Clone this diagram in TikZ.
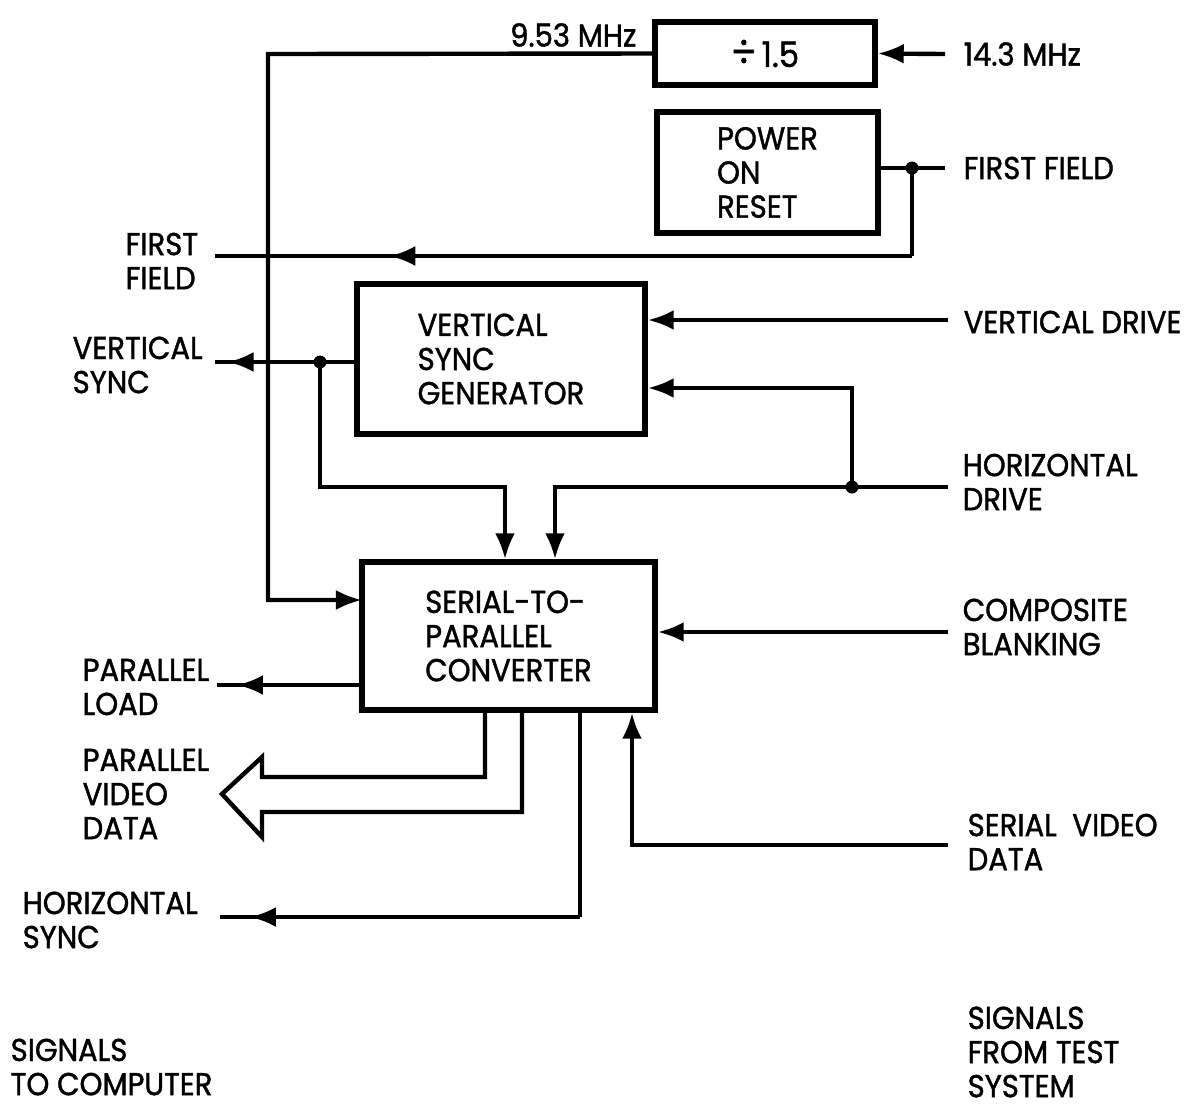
\documentclass[tikz,border=0pt]{standalone}
\usepackage{fontspec}
\setmainfont{Poppins}[FakeStretch=0.92, FakeBold=1.3]
\usetikzlibrary{arrows.meta, positioning, calc, decorations.markings}

\tikzset{
  blk/.style={draw, line width=1.5pt, align=left, inner sep=0pt},
  sig/.style={align=left, anchor=west, inner sep=0pt},
  wire/.style={line width=1.25pt},
  >={Latex[length=0.26cm, width=0.2cm]},
  jdot/.style={circle, fill, inner sep=0pt, minimum size=0.13cm},
  arrowat/.style={postaction={decorate}, decoration={markings, mark=at position #1 with {\arrow{>}}}}
}

\begin{document}
\begin{tikzpicture}[x=0.01cm, y=-0.01cm, font=\fontsize{9}{9.7}\selectfont]
\useasboundingbox (0,0) rectangle (1194,1111);

% blocks
\node[blk, minimum width=2.2cm, minimum height=0.63cm] (div) at (765,53.5) {{\fontsize{12}{12}\selectfont ÷}\,{\fontsize{10}{10}\selectfont 1.5}};
\node[blk, minimum width=2.21cm, minimum height=1.21cm] (power) at (767.5,172.5) {POWER\\ON\\RESET};
\node[blk, minimum width=2.88cm, minimum height=1.5cm] (vsg) at (501,359) {VERTICAL\\SYNC\\GENERATOR};
\node[blk, minimum width=2.93cm, minimum height=1.48cm] (spc) at (508.5,636) {SERIAL-TO-\\PARALLEL\\CONVERTER};

% signal names
\node[sig, anchor=east] (l953) at (637,35) {9.53 MHz};
\node[sig] (l143) at (963,54) {14.3 MHz};
\node[sig] (lffin) at (963,168) {FIRST FIELD};
\node[sig] (lvd) at (963,322) {VERTICAL DRIVE};
\node[sig] (lhd) at (962,482) {HORIZONTAL\\DRIVE};
\node[sig] (lcb) at (962,627) {COMPOSITE\\BLANKING};
\node[sig] (lsv) at (967,842) {SERIAL\ \ VIDEO\\DATA};
\node[sig] (lfrom) at (967,1052) {SIGNALS\\FROM TEST\\SYSTEM};
\node[sig] (lffout) at (125,261) {FIRST\\FIELD};
\node[sig] (lvs) at (72,365) {VERTICAL\\SYNC};
\node[sig] (lpl) at (82,687) {PARALLEL\\LOAD};
\node[sig] (lpv) at (82,794) {PARALLEL\\VIDEO\\DATA};
\node[sig] (lhs) at (22,920) {HORIZONTAL\\SYNC};
\node[sig] (lto) at (10,1067) {SIGNALS\\TO COMPUTER};

% free ends and corners
\coordinate (in143) at (945,54);
\coordinate (clkturn) at (268,54);
\coordinate (spcclk) at (362,600);
\coordinate (ffin) at (945,168);
\coordinate (ffturn) at (912,256);
\coordinate (ffout) at (215,256);
\coordinate (vdin) at (948,320);
\coordinate (hdin) at (948,487);
\coordinate (hdturn) at (852,388);
\coordinate (hdcorner) at (555,487);
\coordinate (vsout) at (215,362);
\coordinate (vscorner) at (505,487);
\coordinate (cbin) at (948,632);
\coordinate (plout) at (217,685);
\coordinate (hscorner) at (580,917);
\coordinate (hsout) at (220,917);
\coordinate (svin) at (948,845);
\coordinate (svcorner) at (632,845);

\node[jdot] (ffdot) at (912,168) {};
\node[jdot] (hddot) at (852,487) {};
\node[jdot] (vsdot) at (320,362) {};

% clock
\draw[wire, ->] (in143) -- (div.east);
\draw[wire, ->] (div.west) -- (clkturn) |- (spcclk);

% first field
\draw[wire] (ffin) -- (power.east |- ffin);
\draw[wire] (ffdot.center) -- (ffturn);
\draw[wire, arrowat=0.75] (ffturn) -- (ffout);

% drives
\draw[wire, ->] (vdin) -- (vsg.east |- vdin);
\draw[wire, ->] (hddot.center) -- (hdturn) -- (vsg.east |- hdturn);
\draw[wire, ->] (hdin) -- (hdcorner) -- (hdcorner |- spc.north);

% vertical sync
\draw[wire, arrowat=0.91] (vsg.west |- vsout) -- (vsout);
\draw[wire, ->] (vsdot.center) |- (vscorner) -- (vscorner |- spc.north);

% converter
\draw[wire, ->] (cbin) -- (spc.east |- cbin);
\draw[wire, arrowat=0.86] (spc.west |- plout) -- (plout);
\draw[wire] (spc.south -| hscorner) -- (hscorner);
\draw[wire, arrowat=0.917] (hscorner) -- (hsout);
\draw[wire, ->] (svin) -- (svcorner) -- (svcorner |- spc.south);

% parallel video data
\draw[wire, line join=miter] (485,710) -- (485,777) -- (262,777) -- (262,757) -- (222,794)
  -- (262,837) -- (262,812) -- (522,812) -- (522,710);

\end{tikzpicture}
\end{document}
